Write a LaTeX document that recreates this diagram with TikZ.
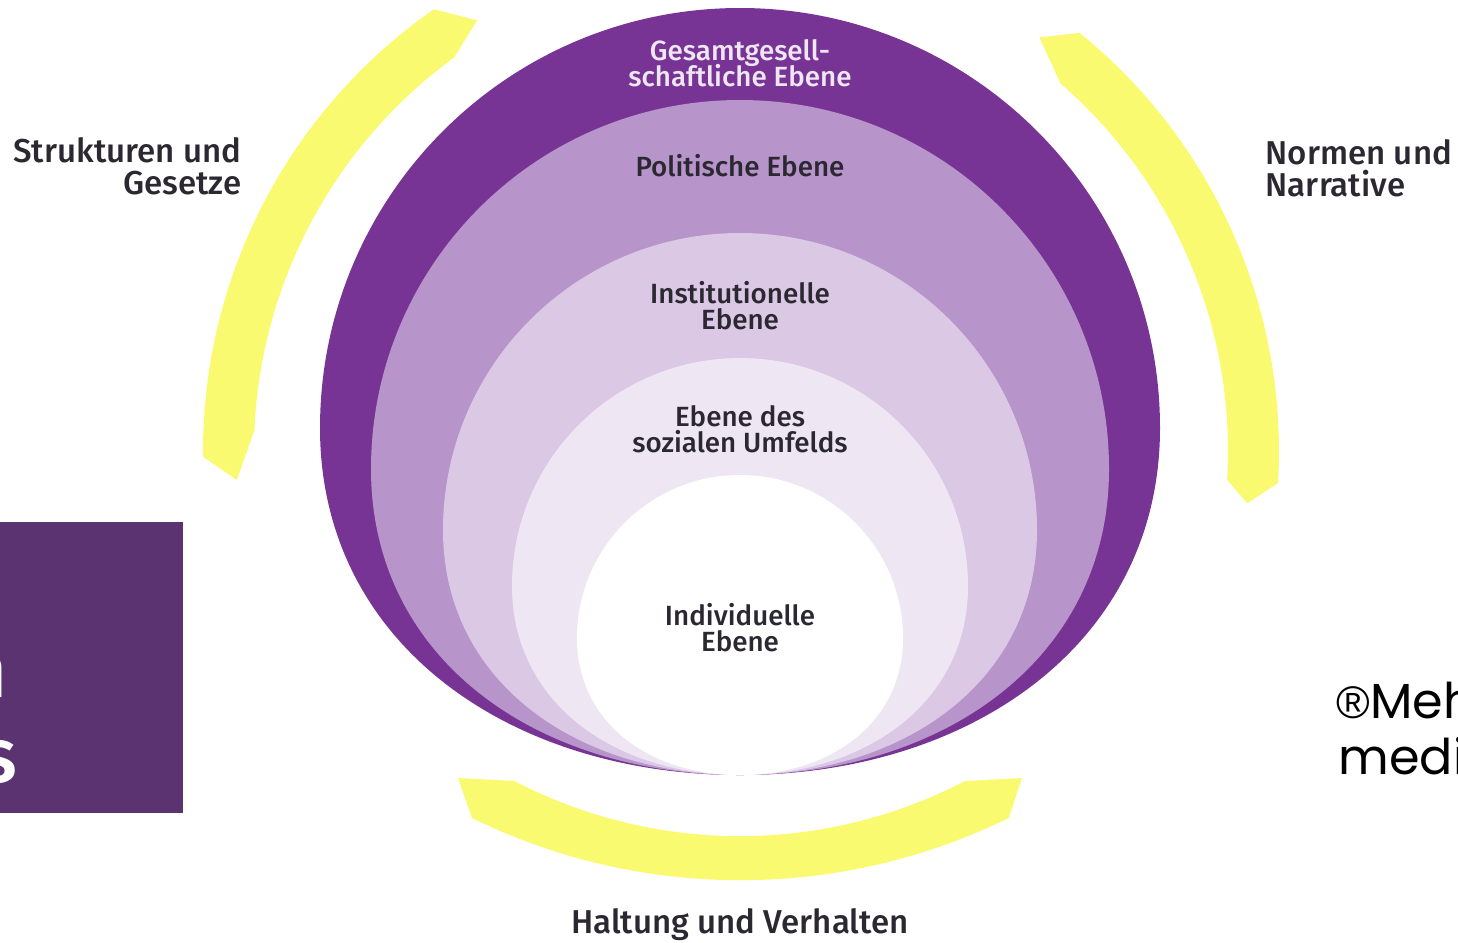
\documentclass[tikz,border=0pt]{standalone}
\usepackage{fontspec}
\setmainfont{Fira Sans}[BoldFont={Fira Sans Medium}]
\newfontfamily\gothic{Poppins}
\newfontfamily\regfont{Liberation Sans}
\usepackage{tikz}
\newcommand\tightlines{\setlength{\lineskiplimit}{-8pt}}

\definecolor{ebene1}{RGB}{120,52,148}
\definecolor{ebene2}{RGB}{183,148,201}
\definecolor{ebene3}{RGB}{219,200,229}
\definecolor{ebene4}{RGB}{239,230,244}
\definecolor{gelb}{RGB}{250,250,112}
\definecolor{kasten}{RGB}{91,51,112}
\definecolor{schrift}{RGB}{43,40,50}

\begin{document}
\begin{tikzpicture}[x=0.01cm, y=-0.01cm,
    inner/.style={font=\bfseries\fontsize{7.9}{7.4}\selectfont\tightlines, text=schrift, align=center},
    outer/.style={font=\bfseries\fontsize{9.4}{9.2}\selectfont\tightlines, text=schrift, inner sep=0}]
    \useasboundingbox (0, 0) rectangle (1458, 942);

    % Layers, outside in
    \fill [ebene1] (740, 775) .. controls (509, 775) and (320, 643) .. (320, 428)
      arc [start angle=180, end angle=360, radius=420]
      .. controls (1160, 643) and (971, 775) .. (740, 775) -- cycle;
    \fill [ebene2] (740, 775) .. controls (537, 775) and (371, 659) .. (371, 469)
      arc [start angle=180, end angle=360, radius=369]
      .. controls (1109, 659) and (943, 775) .. (740, 775) -- cycle;
    \fill [ebene3] (740, 775) .. controls (577, 775) and (443, 682) .. (443, 530)
      arc [start angle=180, end angle=360, radius=297]
      .. controls (1037, 682) and (903, 775) .. (740, 775) -- cycle;
    \fill [ebene4] (740, 775) .. controls (615, 775) and (512, 703) .. (512, 586)
      arc [start angle=180, end angle=360, radius=228]
      .. controls (968, 703) and (865, 775) .. (740, 775) -- cycle;
    \fill [white] (740, 775) .. controls (650, 775) and (577, 723) .. (577, 638)
      arc [start angle=180, end angle=360, radius=163]
      .. controls (903, 723) and (830, 775) .. (740, 775) -- cycle;

    % Yellow bands
    \begin{scope}[shift={(741, 451)}]
      \fill [gelb] (238.5:505) -- (235.2:538) arc [start angle=235.2, end angle=179.4, radius=538]
        -- (176.7:505) -- (182.5:487) arc [start angle=182.5, end angle=233.9, radius=487] -- cycle;
      \fill [gelb] (305.8:510) -- (309:538) arc [start angle=309, end angle=363.4, radius=538]
        -- (365.9:509) -- (363.4:487) arc [start angle=363.4, end angle=311, radius=487] -- cycle;
    \end{scope}
    \fill [gelb] (458, 778) -- (472, 818) arc [start angle=116.1, end angle=63.9, radius=610]
      -- (1022, 778) -- (965, 781) arc [start angle=62.5, end angle=117.5, radius=488] -- cycle;

    % Box on the left
    \fill [kasten] (0, 522) rectangle (183, 813);
    \node [anchor=base east, inner sep=0, text=white, font=\bfseries\fontsize{22}{22}\selectfont] (boxn) at (8, 697) {n};
    \node [anchor=base east, inner sep=0, text=white, font=\bfseries\fontsize{22}{22}\selectfont] (boxs) at (18, 782) {s};

    % Labels
    \node [inner, text=ebene4] (gesamt) at (740, 63) {Gesamtgesell-\\schaftliche Ebene};
    \node [inner] (politisch) at (740, 166) {Politische Ebene};
    \node [inner] (institut) at (740, 306) {Institutionelle\\Ebene};
    \node [inner] (umfeld) at (740, 429) {Ebene des\\sozialen Umfelds};
    \node [inner] (individuell) at (740, 628) {Individuelle\\Ebene};

    \node [outer, anchor=east, align=right] (strukturen) at (242, 166) {Strukturen und\\Gesetze};
    \node [outer, anchor=west, align=left] (normen) at (1265, 168) {Normen und\\Narrative};
    \node [outer] (haltung) at (740, 925) {Haltung und Verhalten};

    \node [anchor=base west, inner sep=0, font=\gothic\fontsize{14}{14}\selectfont] (mark) at (1336, 718) {{\regfont\fontsize{13}{13}\selectfont ®}Meh};
    \node [anchor=base west, inner sep=0, font=\gothic\fontsize{14}{14}\selectfont] (medi) at (1338, 774) {medi};
  \end{tikzpicture}
\end{document}
